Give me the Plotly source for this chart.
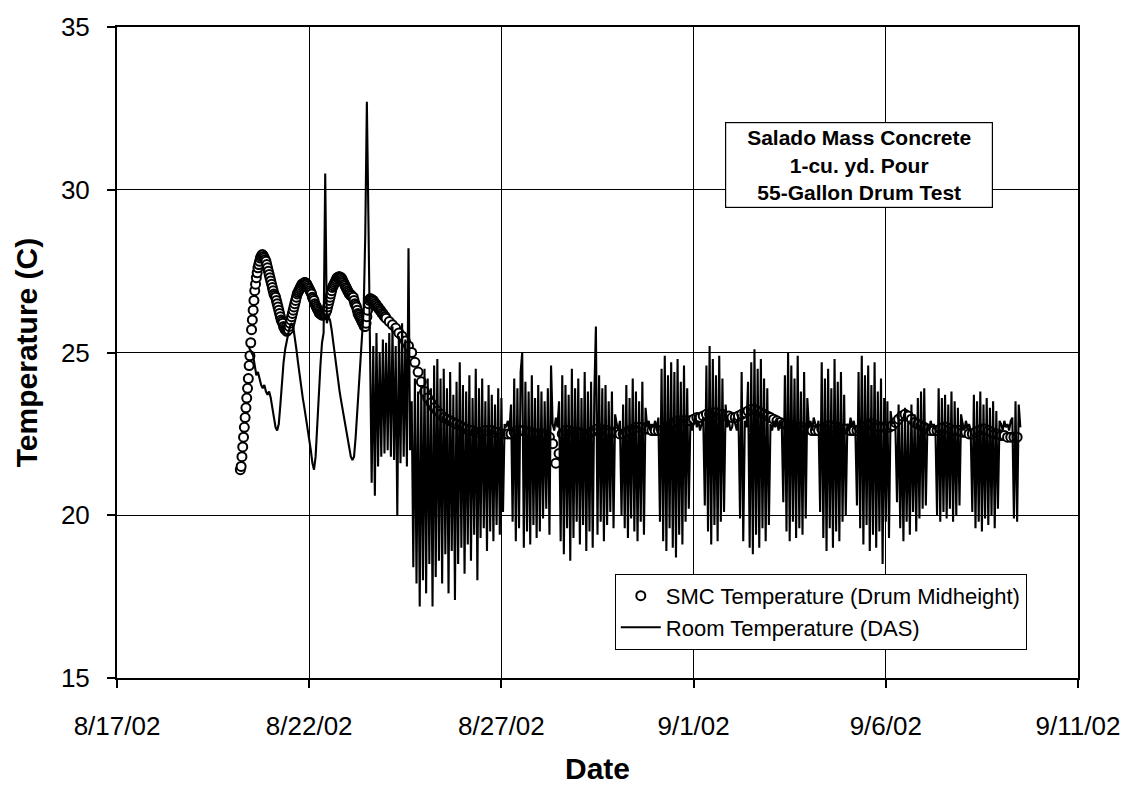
import pandas as pd
import plotly.graph_objects as go

# ---------------- data ----------------
# SMC temperature (drum midheight): 30-minute readings from 8/20/02 05:00
smc_start_a = "2002-08-20 05:00"
smc_a = [
    # 8/20 05:00 - 23:30
    21.4, 21.5, 21.8, 22.1, 22.4, 22.7, 23.0, 23.3, 23.6, 23.9,
    24.2, 24.6, 24.9, 25.3, 25.7, 26.0, 26.3, 26.6, 26.9, 27.1,
    27.3, 27.45, 27.6, 27.7, 27.8, 27.9, 27.95, 28.0, 28.0, 27.95,
    27.9, 27.85, 27.8, 27.7, 27.6, 27.5, 27.4, 27.3,
    # 8/21
    27.2, 27.1, 27.0, 26.9, 26.8, 26.75, 26.7, 26.6, 26.5, 26.4, 26.3, 26.2,
    26.1, 26.0, 25.95, 25.9, 25.8, 25.75, 25.7, 25.7, 25.65, 25.7, 25.7, 25.8,
    25.9, 26.0, 26.1, 26.2, 26.3, 26.4, 26.5, 26.6, 26.7, 26.8, 26.85, 26.9,
    26.95, 27.0, 27.05, 27.1, 27.1, 27.13, 27.15, 27.15, 27.13, 27.1, 27.05, 27.0,
    # 8/22
    26.95, 26.9, 26.85, 26.8, 26.7, 26.65, 26.6, 26.5, 26.45, 26.4, 26.35, 26.3,
    26.25, 26.2, 26.2, 26.17, 26.15, 26.15, 26.15, 26.17, 26.2, 26.25, 26.3, 26.4,
    26.5, 26.6, 26.7, 26.8, 26.9, 27.0, 27.05, 27.1, 27.15, 27.2, 27.25, 27.3,
    27.3, 27.33, 27.33, 27.3, 27.3, 27.25, 27.2, 27.15, 27.1, 27.05, 27.0, 26.95,
    # 8/23
    26.9, 26.85, 26.8, 26.8, 26.75, 26.75, 26.7, 26.7, 26.6, 26.5, 26.45, 26.4,
    26.3, 26.2, 26.15, 26.1, 26.05, 26.0, 25.95, 25.9, 25.85, 25.8, 25.8, 25.9,
    26.1, 26.3, 26.5, 26.6, 26.65, 26.65, 26.63, 26.6, 26.6, 26.55, 26.5, 26.5,
    26.45, 26.4, 26.4, 26.35, 26.3, 26.3, 26.25, 26.2, 26.2, 26.15, 26.1, 26.1,
]

# SMC temperature: 2-hour readings from 8/24/02 00:00
smc_start_b = "2002-08-24 00:00"
smc_b = [
    26.05, 25.95, 25.85, 25.75, 25.6, 25.5, 25.35, 25.2, 25.0, 24.7, 24.4, 24.1,    # 8/24
    23.8, 23.6, 23.45, 23.3, 23.2, 23.1, 23.0, 22.95, 22.9, 22.85, 22.8, 22.75,     # 8/25
    22.7, 22.65, 22.6, 22.6, 22.55, 22.55, 22.55, 22.6, 22.6, 22.6, 22.55, 22.55,   # 8/26
    22.5, 22.5, 22.5, 22.5, 22.55, 22.6, 22.6, 22.6, 22.55, 22.55, 22.5, 22.5,      # 8/27
    22.5, 22.5, 22.45, 22.4, 22.2, 21.6, 21.9, 22.5, 22.6, 22.6, 22.55, 22.55,      # 8/28
    22.55, 22.5, 22.5, 22.5, 22.55, 22.6, 22.65, 22.65, 22.6, 22.6, 22.55, 22.55,   # 8/29
    22.55, 22.5, 22.5, 22.55, 22.6, 22.65, 22.7, 22.7, 22.7, 22.65, 22.65, 22.6,    # 8/30
    22.6, 22.6, 22.6, 22.65, 22.7, 22.8, 22.85, 22.9, 22.9, 22.9, 22.9, 22.9,       # 8/31
    22.95, 23.0, 23.0, 23.05, 23.1, 23.1, 23.15, 23.15, 23.1, 23.1, 23.05, 23.05,   # 9/1
    23.0, 23.0, 23.05, 23.1, 23.15, 23.2, 23.25, 23.25, 23.2, 23.15, 23.1, 23.05,   # 9/2
    23.0, 22.95, 22.9, 22.85, 22.8, 22.8, 22.75, 22.75, 22.7, 22.7, 22.7, 22.65,    # 9/3
    22.65, 22.6, 22.6, 22.6, 22.65, 22.7, 22.75, 22.75, 22.7, 22.7, 22.65, 22.65,   # 9/4
    22.65, 22.6, 22.6, 22.6, 22.65, 22.7, 22.75, 22.8, 22.8, 22.75, 22.7, 22.7,     # 9/5
    22.7, 22.7, 22.75, 22.85, 22.95, 23.05, 23.1, 23.05, 22.95, 22.85, 22.8, 22.75, # 9/6
    22.7, 22.65, 22.6, 22.6, 22.6, 22.65, 22.7, 22.7, 22.65, 22.6, 22.6, 22.6,      # 9/7
    22.55, 22.55, 22.5, 22.5, 22.55, 22.6, 22.65, 22.65, 22.6, 22.55, 22.5, 22.5,   # 9/8
    22.45, 22.45, 22.4, 22.4, 22.4, 22.4,                                           # 9/9
]

# Room temperature (DAS): hourly readings from 8/20/02 10:00
room_start = "2002-08-20 10:00"
room_temp = [
    # 8/20 10:00 - 23:00
    25.2, 25.1, 25.0, 24.9, 24.6, 24.3, 24.4, 24.2, 24.0, 23.9, 24.0, 23.8, 23.7, 23.8,
    # 8/21
    23.6, 23.3, 23.0, 22.7, 22.6, 22.8, 23.4, 24.1, 24.7, 25.1, 25.4, 25.6,
    25.8, 25.9, 25.8, 25.5, 25.1, 24.7, 24.3, 23.9, 23.6, 23.3, 23.0, 22.7,
    # 8/22
    22.4, 22.0, 21.6, 21.4, 21.8, 22.8, 23.7, 24.6, 25.3, 25.6, 30.5, 25.9,
    26.1, 26.0, 25.7, 25.3, 24.9, 24.5, 24.1, 23.8, 23.5, 23.2, 22.9, 22.6,
    # 8/23
    22.3, 22.0, 21.8, 21.7, 21.8, 22.4, 23.2, 24.1, 24.8, 25.5, 26.3, 28.6,
    32.7, 29.0, 24.6, 21.0, 25.2, 20.6, 25.6, 21.5, 25.0, 21.8, 25.4, 21.9,
    # 8/24
    25.3, 22.0, 25.6, 21.8, 25.8, 21.7, 25.2, 20.0, 25.5, 21.6, 25.9, 21.8,
    25.4, 21.5, 28.2, 22.0, 23.5, 18.4, 24.2, 17.9, 23.8, 17.2, 24.0, 18.0,
    # 8/25
    24.5, 17.6, 24.2, 18.5, 23.9, 17.2, 24.6, 18.1, 24.8, 18.6, 24.2, 17.9,
    24.5, 18.8, 23.9, 17.6, 24.4, 18.9, 23.7, 17.4, 24.1, 18.5, 24.7, 19.0,
    # 8/26
    24.0, 18.2, 23.8, 19.1, 24.3, 18.6, 23.6, 19.4, 24.5, 18.0, 23.9, 19.3,
    24.2, 19.6, 23.5, 18.9, 24.0, 19.5, 23.7, 19.2, 23.4, 19.7, 23.9, 19.4,
    # 8/27
    23.6, 20.1, 22.8, 22.7, 22.9, 22.6, 23.4, 19.8, 24.2, 19.2, 23.9, 19.6,
    24.4, 25.0, 19.0, 24.1, 19.5, 23.8, 19.1, 24.3, 19.7, 23.6, 19.3, 24.0,
    # 8/28
    19.5, 23.8, 19.9, 23.5, 20.2, 23.9, 19.4, 24.6, 22.8, 22.6, 23.0, 22.7,
    23.5, 19.2, 24.3, 18.8, 24.0, 19.6, 23.7, 18.6, 24.5, 19.3, 23.9, 19.8,
    # 8/29
    24.2, 19.1, 23.6, 19.7, 24.4, 18.9, 23.8, 19.5, 24.1, 19.0, 23.7, 25.8,
    19.4, 24.3, 19.8, 23.9, 19.2, 24.0, 19.7, 23.5, 20.1, 23.8, 19.6, 23.1,
    # 8/30
    22.8, 22.6, 22.9, 20.0, 23.4, 19.6, 24.0, 19.3, 23.6, 19.9, 24.2, 19.5,
    23.8, 19.2, 23.5, 19.8, 24.1, 19.4, 23.3, 22.7, 22.9, 22.6, 22.8, 22.7,
    # 8/31
    22.9, 22.6, 23.0, 19.8, 24.5, 19.2, 24.9, 18.9, 24.3, 19.6, 24.7, 19.0,
    24.4, 18.7, 24.8, 19.4, 24.1, 19.1, 24.6, 19.8, 23.9, 20.2, 22.9, 22.6,
    # 9/1
    22.8, 23.1, 22.7, 22.9, 22.6, 22.8, 23.0, 20.3, 24.6, 19.5, 25.2, 19.1,
    24.8, 19.7, 24.3, 19.2, 24.9, 19.8, 24.2, 20.1, 23.4, 22.7, 22.9, 22.6,
    # 9/2
    22.7, 23.0, 22.8, 22.6, 23.1, 19.9, 24.4, 19.2, 22.9, 22.7, 24.1, 19.0,
    24.7, 18.8, 25.1, 19.4, 24.5, 19.0, 24.8, 19.6, 24.2, 19.2, 23.9, 19.7,
    # 9/3
    22.8, 22.6, 22.9, 22.7, 23.0, 22.6, 22.8, 22.9, 20.4, 24.3, 19.5, 25.0,
    19.2, 24.6, 19.8, 24.2, 19.3, 24.9, 19.6, 23.8, 19.4, 24.4, 19.9, 23.6,
    # 9/4
    22.7, 22.9, 22.6, 23.0, 22.8, 22.7, 22.9, 20.1, 24.7, 19.3, 24.2, 18.9,
    24.5, 19.6, 23.9, 19.0, 24.8, 19.5, 24.1, 19.2, 24.4, 19.8, 23.7, 20.0,
    # 9/5
    22.8, 22.6, 23.0, 22.7, 22.9, 22.6, 20.3, 24.4, 19.6, 24.9, 19.1, 24.3,
    19.7, 24.6, 18.9, 24.0, 19.4, 24.7, 19.0, 23.8, 19.5, 24.2, 18.5, 23.6,
    # 9/6
    19.8, 23.5, 19.3, 23.2, 22.8, 22.9, 22.7, 20.4, 23.4, 19.6, 23.0, 19.2,
    23.3, 19.8, 22.9, 19.4, 23.4, 20.1, 23.1, 19.5, 23.6, 19.9, 23.8, 20.2,
    # 9/7
    23.9, 20.3, 22.8, 22.6, 22.9, 22.7, 22.8, 22.6, 20.0, 23.9, 19.8, 23.6,
    20.1, 23.7, 19.9, 23.4, 20.2, 23.8, 19.8, 23.5, 20.0, 23.3, 20.3, 23.1,
    # 9/8
    22.8, 22.6, 22.9, 22.7, 22.8, 22.6, 20.1, 23.7, 19.6, 23.5, 19.8, 23.8,
    19.5, 23.4, 19.9, 23.6, 19.7, 23.3, 20.0, 23.5, 19.6, 23.2, 20.2, 22.9,
    # 9/9
    22.8, 22.6, 22.9, 22.7, 22.8, 22.6, 22.9, 23.0, 19.9, 23.5, 19.8, 23.4, 22.7,
]

x_tick_dates = ["2002-08-17", "2002-08-22", "2002-08-27", "2002-09-01", "2002-09-06", "2002-09-11"]
x_tick_labels = ["8/17/02", "8/22/02", "8/27/02", "9/1/02", "9/6/02", "9/11/02"]
y_tick_values = [15, 20, 25, 30, 35]

series_names = ["SMC Temperature (Drum Midheight)", "Room Temperature (DAS)"]
box_text = ["Salado Mass Concrete", "1-cu. yd. Pour", "55-Gallon Drum Test"]

# ---------------- build ----------------
smc_time = list(pd.date_range(smc_start_a, periods=len(smc_a), freq="30min")) + \
           list(pd.date_range(smc_start_b, periods=len(smc_b), freq="2h"))
smc_vals = smc_a + smc_b
room_time = pd.date_range(room_start, periods=len(room_temp), freq="h")

FONT = "Arial, 'Liberation Sans', sans-serif"

fig = go.Figure()
fig.add_trace(go.Scatter(
    x=smc_time, y=smc_vals, mode="markers", name=series_names[0],
    marker=dict(symbol="circle", size=9, color="white",
                line=dict(color="black", width=2)),
))
fig.add_trace(go.Scatter(
    x=room_time, y=room_temp, mode="lines", name=series_names[1],
    line=dict(color="black", width=2.1),
))

fig.add_annotation(
    text="<b>" + "<br>".join(box_text) + "</b>",
    xref="paper", yref="paper", x=0.772, y=0.7877,
    xanchor="center", yanchor="middle", showarrow=False,
    font=dict(family=FONT, size=21, color="black"),
    bgcolor="white", bordercolor="black", borderwidth=1.2, borderpad=2,
    width=262, height=80, align="center",
)

axis_common = dict(
    showline=True, linecolor="black", linewidth=2, mirror=True,
    showgrid=True, gridcolor="black", gridwidth=1,
    ticks="outside", ticklen=8, tickwidth=1.5, tickcolor="black",
    tickfont=dict(family=FONT, size=26, color="black"),
    zeroline=False,
)

fig.update_layout(
    width=1135, height=792,
    margin=dict(l=117, r=57, t=22, b=106),
    paper_bgcolor="white", plot_bgcolor="white",
    showlegend=True,
    legend=dict(
        x=0.518, y=0.160, xanchor="left", yanchor="top",
        bgcolor="white", bordercolor="black", borderwidth=1,
        font=dict(family=FONT, size=22, color="black"),
        itemwidth=40, traceorder="normal", tracegroupgap=0,
    ),
    xaxis=dict(
        type="date", range=["2002-08-17", "2002-09-11"],
        tickmode="array", tickvals=x_tick_dates, ticktext=x_tick_labels,
        ticklabelstandoff=16,
        title=dict(text="<b>Date</b>", font=dict(family=FONT, size=30, color="black"),
                   standoff=18),
        **axis_common,
    ),
    yaxis=dict(
        range=[15, 35], tickmode="array", tickvals=y_tick_values,
        ticklabelstandoff=12,
        title=dict(text="<b>Temperature (C)</b>", font=dict(family=FONT, size=30, color="black"),
                   standoff=14),
        **axis_common,
    ),
)

fig.write_html("out.html")
